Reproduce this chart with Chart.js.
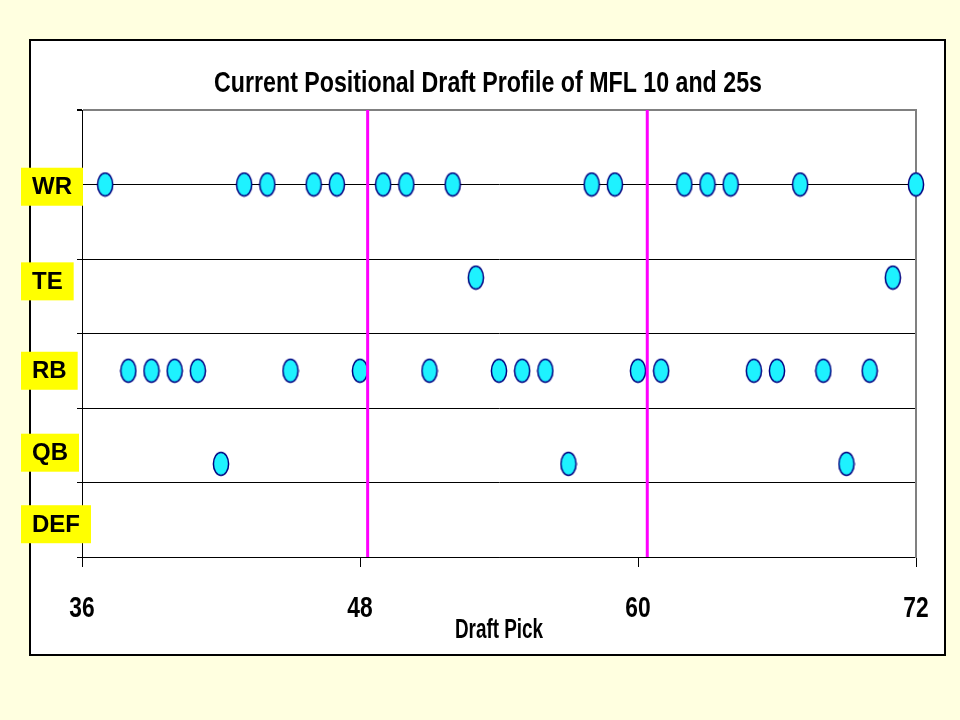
<!DOCTYPE html>
<html>
<head>
<meta charset="utf-8">
<title>Current Positional Draft Profile of MFL 10 and 25s</title>
<script src="https://cdn.jsdelivr.net/npm/chart.js@4.4.1/dist/chart.umd.min.js"></script>
<style>
  html, body { margin: 0; padding: 0; background: #FFFFE0; }
  #wrap { position: relative; width: 960px; height: 720px; }
</style>
</head>
<body>
<div id="wrap"><canvas id="draftChart"></canvas></div>
<script>
'use strict';

// Draft pick numbers taken by each position (picks 37 to 72)
const wrPicks = [37, 43, 44, 46, 47, 49, 50, 52, 58, 59, 62, 63, 64, 67, 72];
const tePicks = [53, 71];
const rbPicks = [38, 39, 40, 41, 45, 48, 51, 54, 55, 56, 60, 61, 65, 66, 68, 70];
const qbPicks = [42, 57, 69];
const defPicks = [];

// Position rows, the height each row is plotted at, and where its label sits
const positions = ['WR', 'TE', 'RB', 'QB', 'DEF'];
const rowLevels = [5, 3.75, 2.5, 1.25, 0.5];
const labelLevels = [4.97, 3.7, 2.5, 1.4, 0.44];

// Magenta marker lines (draft pick)
const markerPicks = [48.33, 60.4];

// X axis tick values
const xTicks = [36, 48, 60, 72];

const chartTitle = 'Current Positional Draft Profile of MFL 10 and 25s';
const xTitle = 'Draft Pick';

const FONT = "'Liberation Sans', Arial, sans-serif";

// Oval marker used for every point
function makeOval() {
    const c = document.createElement('canvas');
    c.width = 18;
    c.height = 26;
    const g = c.getContext('2d');
    g.beginPath();
    g.ellipse(9, 13, 7.6, 11.6, 0, 0, Math.PI * 2);
    g.fillStyle = '#1EF2FF';
    g.fill();
    g.lineWidth = 1.5;
    g.strokeStyle = '#000080';
    g.stroke();
    return c;
}
const oval = makeOval();

// Bold text squeezed sideways, like the condensed lettering of the original
function drawNarrow(ctx, text, x, baseline, size, squeeze) {
    ctx.save();
    ctx.translate(x, baseline);
    ctx.scale(squeeze, 1);
    ctx.font = 'bold ' + size + 'px ' + FONT;
    ctx.fillStyle = '#000000';
    ctx.textAlign = 'center';
    ctx.textBaseline = 'alphabetic';
    ctx.fillText(text, 0, 0);
    ctx.restore();
}

const pickLists = [wrPicks, tePicks, rbPicks, qbPicks, defPicks];

const datasets = [];
pickLists.forEach(function (picks, i) {
    datasets.push({
        type: 'scatter',
        label: positions[i],
        data: picks.map(function (p) { return { x: p, y: rowLevels[i] }; }),
        pointStyle: oval,
        pointRadius: 8,
        clip: false,
        order: 2
    });
});
markerPicks.forEach(function (m) {
    datasets.push({
        type: 'line',
        label: 'marker',
        data: [{ x: m, y: 0 }, { x: m, y: 6 }],
        borderColor: '#FF00FF',
        borderWidth: 3,
        pointRadius: 0,
        fill: false,
        order: 1
    });
});

// Page background and outer chart frame
const framePlugin = {
    id: 'frame',
    beforeDraw: function (chart) {
        const ctx = chart.ctx;
        ctx.save();
        ctx.fillStyle = '#FFFFE0';
        ctx.fillRect(0, 0, chart.width, chart.height);
        ctx.fillStyle = '#FFFFFF';
        ctx.fillRect(30, 40, 915, 615);
        ctx.lineWidth = 2;
        ctx.strokeStyle = '#000000';
        ctx.strokeRect(30, 40, 915, 615);
        ctx.restore();
    }
};

// Title, x tick labels and x axis title in condensed bold
const textPlugin = {
    id: 'narrowText',
    afterDraw: function (chart) {
        const ctx = chart.ctx;
        const xScale = chart.scales.x;
        drawNarrow(ctx, chartTitle, 488, 92, 29, 0.8);
        xScale.ticks.forEach(function (t) {
            drawNarrow(ctx, String(t.value), xScale.getPixelForValue(t.value), 617, 30, 0.76);
        });
        drawNarrow(ctx, xTitle, (xScale.left + xScale.right) / 2, 638, 27, 0.7);
    }
};

// Yellow position labels on the left
const rowLabelPlugin = {
    id: 'rowLabels',
    afterDraw: function (chart) {
        const ctx = chart.ctx;
        const yScale = chart.scales.y;
        ctx.save();
        ctx.font = 'bold 24px ' + FONT;
        ctx.textBaseline = 'middle';
        ctx.textAlign = 'left';
        positions.forEach(function (name, i) {
            const cy = yScale.getPixelForValue(labelLevels[i]);
            const w = ctx.measureText(name).width + 22;
            ctx.fillStyle = '#FFFF00';
            ctx.fillRect(21, cy - 19, w, 38);
            ctx.fillStyle = '#000000';
            ctx.fillText(name, 32, cy + 1);
        });
        ctx.restore();
    }
};

new Chart(document.getElementById('draftChart'), {
    data: { datasets: datasets },
    options: {
        responsive: true,
        maintainAspectRatio: false,
        animation: false,
        layout: { padding: { left: 72, right: 44, top: 110, bottom: 60 } },
        plugins: {
            legend: { display: false },
            tooltip: { enabled: false },
            title: { display: false }
        },
        scales: {
            x: {
                type: 'linear',
                position: 'bottom',
                min: 36,
                max: 72,
                afterBuildTicks: function (scale) {
                    scale.ticks = xTicks.map(function (v) { return { value: v }; });
                },
                afterFit: function (scale) { scale.height = 103; },
                ticks: { display: false },
                grid: {
                    drawOnChartArea: false,
                    drawTicks: true,
                    tickLength: 10,
                    tickColor: '#000000'
                },
                border: { color: '#000000', width: 1 }
            },
            y: {
                type: 'linear',
                position: 'left',
                min: 0,
                max: 6,
                afterFit: function (scale) { scale.width = 10; },
                ticks: { display: false, stepSize: 1 },
                grid: {
                    color: function (c) { return c.tick && c.tick.value === 6 ? '#808080' : '#000000'; },
                    lineWidth: function (c) { return c.tick && c.tick.value === 6 ? 2 : 1; },
                    drawTicks: true,
                    tickLength: 5,
                    tickColor: '#000000'
                },
                border: { color: '#000000', width: 1 }
            },
            y2: {
                type: 'linear',
                position: 'right',
                min: 0,
                max: 6,
                afterFit: function (scale) { scale.width = 0; },
                ticks: { display: false },
                grid: { display: false, drawTicks: false },
                border: { color: '#808080', width: 2 }
            }
        }
    },
    plugins: [framePlugin, textPlugin, rowLabelPlugin]
});
</script>
</body>
</html>
